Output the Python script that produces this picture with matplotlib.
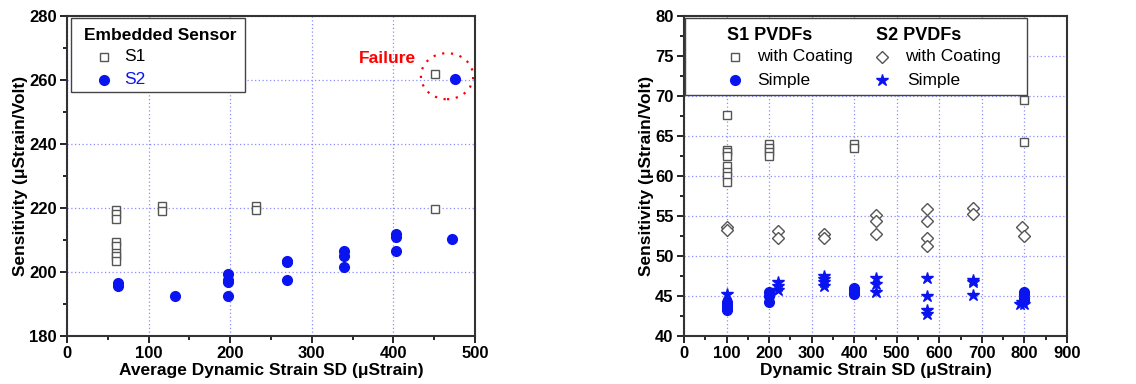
import matplotlib.pyplot as plt
from matplotlib.patches import Ellipse, Rectangle
from matplotlib.ticker import MultipleLocator

plt.rcParams["font.family"] = ["Liberation Sans", "DejaVu Sans"]
plt.rcParams["font.size"] = 12

# left panel: embedded sensor
s1_x = [60, 60, 60, 60, 60, 60, 60, 60, 117, 117, 232, 232, 451]
s1_y = [219.5, 218, 216.5, 209.5, 208, 206, 205, 203.5, 220.5, 219, 220.5, 219.5, 219.8]
s2_x = [62, 62, 132, 197, 197, 197, 197, 269, 269, 269, 340, 340, 340, 403, 403, 403, 472]
s2_y = [196.5, 195.5, 192.5, 199.5, 197.5, 197, 192.5, 203.5, 203, 197.5,
        206.5, 205, 201.5, 212, 211, 206.5, 210.2]
fail_x = [451, 475]
fail_y = [261.9, 260.3]

# right panel: PVDFs
s1c_x = [100] * 8 + [200] * 4 + [400] * 2 + [800] * 2
s1c_y = [67.6, 63.3, 63.0, 62.5, 61.2, 60.5, 60.0, 59.3,
         64.0, 63.5, 63.0, 62.5, 64.0, 63.5, 69.5, 64.3]
s2c_x = [100, 100, 220, 220, 330, 330, 450, 450, 450, 570, 570, 570, 570, 680, 680, 795, 800]
s2c_y = [53.6, 53.2, 53.1, 52.2, 52.7, 52.3, 55.1, 54.4, 52.7,
         55.9, 54.4, 52.2, 51.2, 56.0, 55.3, 53.6, 52.5]
s1s_x = [100] * 4 + [200] * 3 + [400] * 4 + [800] * 4
s1s_y = [44.2, 43.9, 43.6, 43.3, 45.5, 45.0, 44.3,
         46.0, 45.7, 45.4, 45.2, 45.5, 45.2, 44.8, 44.5]
s2s_x = [100, 220, 220, 220, 330, 330, 330, 330, 450, 450, 450,
         570, 570, 570, 570, 680, 680, 680, 790, 795, 800]
s2s_y = [45.3, 46.8, 46.3, 45.8, 47.5, 47.1, 46.7, 46.3, 47.3, 46.5, 45.5,
         47.3, 45.0, 43.3, 42.8, 47.0, 46.8, 45.1, 44.0, 44.2, 44.0]

GRAY = "#555555"
BLUE = "#0a14f0"
SQ = dict(marker="s", ls="none", ms=5.5, mfc="white", mec=GRAY, mew=1.0)
DI = dict(marker="D", ls="none", ms=6.5, mfc="white", mec=GRAY, mew=1.0)
CI = dict(marker="o", ls="none", ms=7, color=BLUE)
ST = dict(marker="*", ls="none", ms=9, color=BLUE)


def style_axes(ax):
    ax.grid(True, color="#8c8cff", linestyle=(0, (1, 2)), linewidth=0.9)
    ax.set_axisbelow(True)
    for sp in ax.spines.values():
        sp.set_linewidth(1.5)
        sp.set_color("#333333")
    ax.tick_params(which="both", direction="out", width=1.2, top=False, right=False)
    ax.tick_params(which="major", length=5, pad=2.5)
    ax.tick_params(which="minor", length=3)
    for lbl in ax.get_xticklabels() + ax.get_yticklabels():
        lbl.set_fontweight("bold")
        lbl.set_fontsize(12)


def legend_box(ax, x0, y0, x1, y1):
    ax.add_patch(Rectangle((x0, y0), x1 - x0, y1 - y0, transform=ax.transAxes,
                           fc="white", ec="#444444", lw=1.0, clip_on=False, zorder=5))


def legend_item(ax, mx, tx, y, style, text, color="black"):
    ax.plot([mx], [y], transform=ax.transAxes, clip_on=False, zorder=6, **style)
    ax.text(tx, y, text, transform=ax.transAxes, fontsize=12.5, color=color,
            va="center", ha="left", zorder=6)


fig = plt.figure(figsize=(11.36, 3.84), dpi=100)
ax1 = fig.add_axes([67 / 1136, 48 / 384, 408 / 1136, 320 / 384])
ax2 = fig.add_axes([684 / 1136, 48 / 384, 383 / 1136, 320 / 384])

# ---- left ----
ax1.plot(s1_x + fail_x[:1], s1_y + fail_y[:1], **SQ)
ax1.plot(s2_x + fail_x[1:], s2_y + fail_y[1:], **CI)
ax1.set_xlim(0, 500)
ax1.set_ylim(180, 280)
ax1.xaxis.set_major_locator(MultipleLocator(100))
ax1.xaxis.set_minor_locator(MultipleLocator(50))
ax1.yaxis.set_major_locator(MultipleLocator(20))
ax1.yaxis.set_minor_locator(MultipleLocator(10))
style_axes(ax1)
ax1.set_xlabel("Average Dynamic Strain SD (μStrain)", fontweight="bold", fontsize=12.5, labelpad=1)
ax1.set_ylabel("Sensitivity (μStrain/Volt)", fontweight="bold", fontsize=12.5, labelpad=1)

ax1.add_patch(Ellipse((465.7, 261.2), 64, 14.4, fill=False, ec="red",
                      ls=(0, (1, 3)), lw=1.6, clip_on=False))
ax1.text(393, 266.8, "Failure", color="red", fontweight="bold", fontsize=12.5,
         ha="center", va="center")

legend_box(ax1, 0.0098, 0.763, 0.436, 0.994)
ax1.text(0.042, 0.9375, "Embedded Sensor", transform=ax1.transAxes, fontweight="bold",
         fontsize=12.5, va="center", ha="left", zorder=6)
legend_item(ax1, 0.0907, 0.1397, 0.872, SQ, "S1")
legend_item(ax1, 0.0907, 0.1397, 0.800, CI, "S2", color=BLUE)

# ---- right ----
ax2.plot(s1c_x, s1c_y, **SQ)
ax2.plot(s2c_x, s2c_y, **DI)
ax2.plot(s1s_x, s1s_y, **CI)
ax2.plot(s2s_x, s2s_y, **ST)
ax2.set_xlim(0, 900)
ax2.set_ylim(40, 80)
ax2.xaxis.set_major_locator(MultipleLocator(100))
ax2.xaxis.set_minor_locator(MultipleLocator(50))
ax2.yaxis.set_major_locator(MultipleLocator(5))
ax2.yaxis.set_minor_locator(MultipleLocator(2.5))
style_axes(ax2)
ax2.set_xlabel("Dynamic Strain SD (μStrain)", fontweight="bold", fontsize=12.5, labelpad=1)
ax2.set_ylabel("Sensitivity (μStrain/Volt)", fontweight="bold", fontsize=12.5, labelpad=1)

legend_box(ax2, 0.0026, 0.753, 0.8956, 0.994)
ax2.text(0.1123, 0.9375, "S1 PVDFs", transform=ax2.transAxes, fontweight="bold",
         fontsize=13, va="center", ha="left", zorder=6)
ax2.text(0.501, 0.9375, "S2 PVDFs", transform=ax2.transAxes, fontweight="bold",
         fontsize=13, va="center", ha="left", zorder=6)
legend_item(ax2, 0.133, 0.1906, 0.872, SQ, "with Coating")
legend_item(ax2, 0.133, 0.1906, 0.800, CI, "Simple")
legend_item(ax2, 0.517, 0.577, 0.872, DI, "with Coating")
legend_item(ax2, 0.517, 0.583, 0.800, ST, "Simple")

fig.savefig("out.png", dpi=100)
